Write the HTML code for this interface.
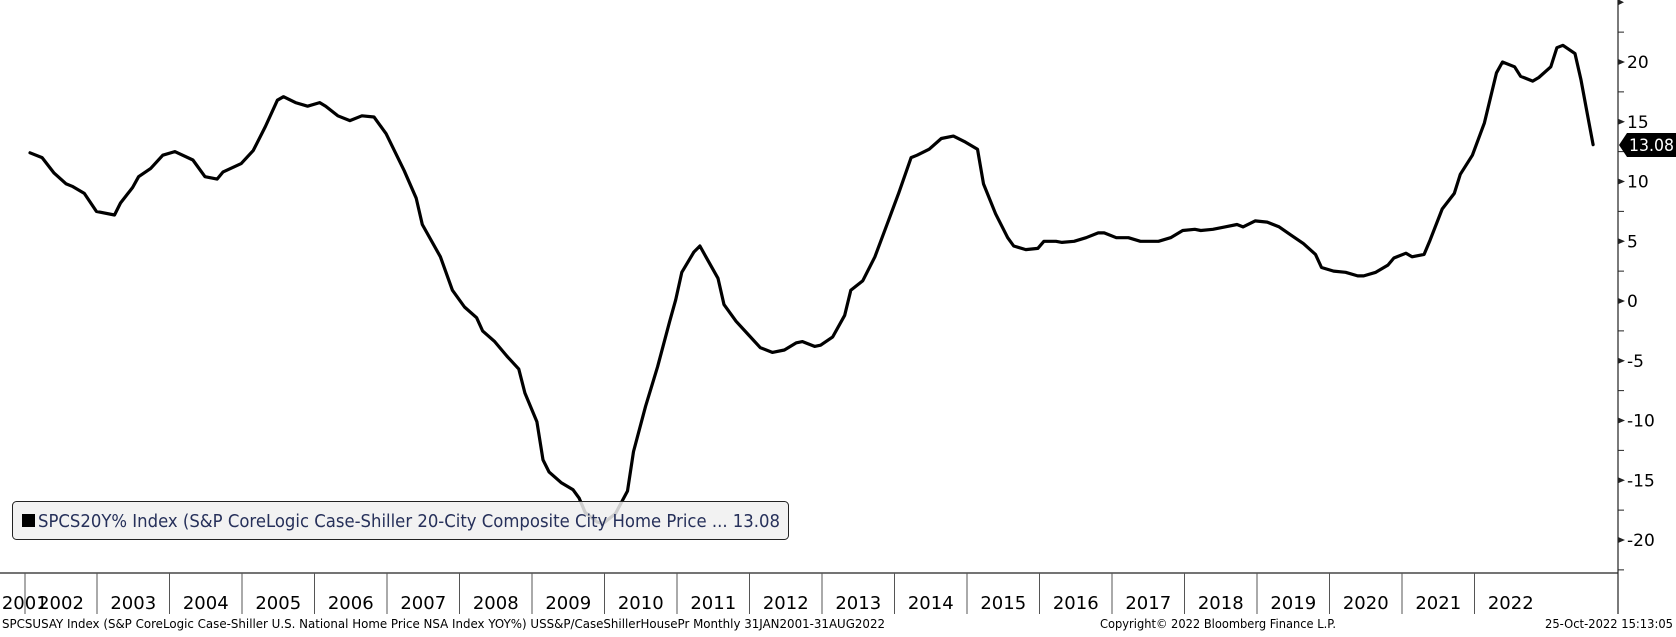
<!DOCTYPE html>
<html><head><meta charset="utf-8">
<style>
html,body{margin:0;padding:0;background:#fff;}
body{width:1676px;height:633px;overflow:hidden;font-family:"DejaVu Sans","Liberation Sans",sans-serif;}
svg text{font-family:"DejaVu Sans","Liberation Sans",sans-serif;}
</style></head>
<body>
<svg id="chart" width="1676" height="633" viewBox="0 0 1676 633" xmlns="http://www.w3.org/2000/svg">
<g id="axes"></g>
<path id="series" fill="none" stroke="#000" stroke-width="3.2" stroke-linejoin="round" stroke-linecap="round"/>
<g id="legend">
<rect x="12.5" y="501.5" width="776" height="38" rx="4" fill="#f0f0f0" fill-opacity="0.85" stroke="#222" stroke-width="1"/>
<rect x="22" y="514" width="13" height="13" fill="#000"/>
<text x="38" y="527" font-size="18" fill="#26305a" textLength="742" lengthAdjust="spacingAndGlyphs">SPCS20Y% Index (S&amp;P CoreLogic Case-Shiller 20-City Composite City Home Price ... 13.08</text>
</g>
<g id="lastval">
<path d="M1619 145 L1627 133 L1676 133 L1676 157 L1627 157 Z" fill="#000"/>
<text x="1629" y="151" font-size="17" fill="#fff" textLength="45" lengthAdjust="spacingAndGlyphs">13.08</text>
</g>
<text x="2" y="628" font-size="12.5" fill="#000" textLength="883" lengthAdjust="spacingAndGlyphs">SPCSUSAY Index (S&amp;P CoreLogic Case-Shiller U.S. National Home Price NSA Index YOY%) USS&amp;P/CaseShillerHousePr  Monthly 31JAN2001-31AUG2022</text>
<text x="1100" y="628" font-size="12.5" fill="#000" textLength="236" lengthAdjust="spacingAndGlyphs">Copyright© 2022 Bloomberg Finance L.P.</text>
<text x="1545" y="628" font-size="12.5" fill="#000" textLength="128" lengthAdjust="spacingAndGlyphs">25-Oct-2022 15:13:05</text>
</svg>
<script>
const months=[0,2,4,6,7,9,11,14,15,17,18,20,22,24,27,29,31,32,35,37,39,41,42,44,46,48,49,51,53,55,57,59,62,64,65,68,70,72,74,75,77,79,81,82,84,85,86,88,90,91,92,94,95,97,99,100,102,104,106,107,108,110,111,112,114,115,117,119,121,123,125,127,128,130,131,133,135,136,138,140,142,144,146,147,149,151,153,155,157,158,160,162,163,165,167,168,170,171,173,175,177,178,180,182,184,186,187,189,191,193,194,196,198,200,201,203,205,207,209,211,213,214,216,218,220,221,223,225,226,228,229,231,232,234,236,237,239,241,243,244,246,247,249,250,252,253,254,256,257,258,259];
const values=[12.4,12,10.7,9.8,9.6,9.0,7.5,7.2,8.2,9.5,10.4,11.1,12.2,12.5,11.8,10.4,10.2,10.8,11.5,12.6,14.6,16.8,17.1,16.6,16.3,16.6,16.3,15.5,15.1,15.5,15.4,14,10.9,8.6,6.4,3.7,0.9,-0.5,-1.4,-2.5,-3.4,-4.6,-5.7,-7.7,-10.1,-13.3,-14.3,-15.2,-15.8,-16.5,-17.7,-18.5,-18.6,-17.8,-15.9,-12.6,-8.8,-5.5,-1.7,0.1,2.4,4.1,4.6,3.7,1.9,-0.3,-1.7,-2.8,-3.9,-4.3,-4.1,-3.5,-3.4,-3.8,-3.7,-3.0,-1.2,0.9,1.7,3.7,6.4,9.1,12,12.2,12.7,13.6,13.8,13.3,12.7,9.8,7.3,5.3,4.6,4.3,4.4,5.0,5.0,4.9,5.0,5.3,5.7,5.7,5.3,5.3,5.0,5.0,5.0,5.3,5.9,6.0,5.9,6.0,6.2,6.4,6.2,6.7,6.6,6.2,5.5,4.8,3.9,2.8,2.5,2.4,2.1,2.1,2.4,3.0,3.6,4.0,3.7,3.9,5.1,7.7,9.0,10.6,12.2,14.9,19.1,20.0,19.6,18.8,18.4,18.7,19.6,21.2,21.4,20.7,18.5,15.8,13.08];
const years=[2001,2002,2003,2004,2005,2006,2007,2008,2009,2010,2011,2012,2013,2014,2015,2016,2017,2018,2019,2020,2021,2022];
const yTicks=[-20,-15,-10,-5,0,5,10,15,20];
const yMinor=[-22.5,-17.5,-12.5,-7.5,-2.5,2.5,7.5,12.5,17.5,22.5];

const X0=30, PXM=6.035, Y0=301, PXU=11.95, AX=1618, AY=573;
function xOf(m){return X0+m*PXM;}
function yOf(v){return Y0-v*PXU;}
function yearEdge(y){return 97+(y-2002)*72.5;}

const NS="http://www.w3.org/2000/svg";
const axesG=document.getElementById('axes');
function mk(tag,attrs){const e=document.createElementNS(NS,tag);for(const k in attrs)e.setAttribute(k,attrs[k]);axesG.appendChild(e);return e;}

let ln=mk('line',{x1:AX,y1:0,x2:AX,y2:614,stroke:'#222','stroke-width':1.2});


ln=mk('line',{x1:0,y1:AY,x2:AX,y2:AY,stroke:'#222','stroke-width':1.2});


const topTick=mk('path',{d:`M${AX} ${yOf(25)-3} L${AX+6} ${yOf(25)} L${AX} ${yOf(25)+3} Z`,fill:'#222'});



yTicks.forEach(v=>{
  const y=yOf(v);
  const t=mk('path',{d:`M${AX} ${y-3} L${AX+7} ${y} L${AX} ${y+3} Z`,fill:'#222'});
  
  
  const tx=mk('text',{x:AX+9,y:y+6,'font-size':17,fill:'#000'});
  tx.textContent=String(v);
  
  
});
yMinor.forEach(v=>{
  const y=yOf(v);
  const t=mk('line',{x1:AX,y1:y,x2:AX+6,y2:y,stroke:'#222','stroke-width':1});
  
  
});
years.forEach(yr=>{
  const a=Math.max(25,yearEdge(yr)-72.5), b=yearEdge(yr);
  if(yr>2001){
    const s=mk('line',{x1:a,y1:AY,x2:a,y2:614,stroke:'#555','stroke-width':1});
    
    
  }
  const tx=mk('text',{x:(a+Math.min(b,AX))/2,y:609,'font-size':18,fill:'#000','text-anchor':'middle'});
  tx.textContent=String(yr);
  
  
});

let d='';
months.forEach((m,i)=>{d+=(i?' L':'M')+xOf(m).toFixed(1)+' '+yOf(values[i]).toFixed(1);});
document.getElementById('series').setAttribute('d',d);
</script>
</body></html>
